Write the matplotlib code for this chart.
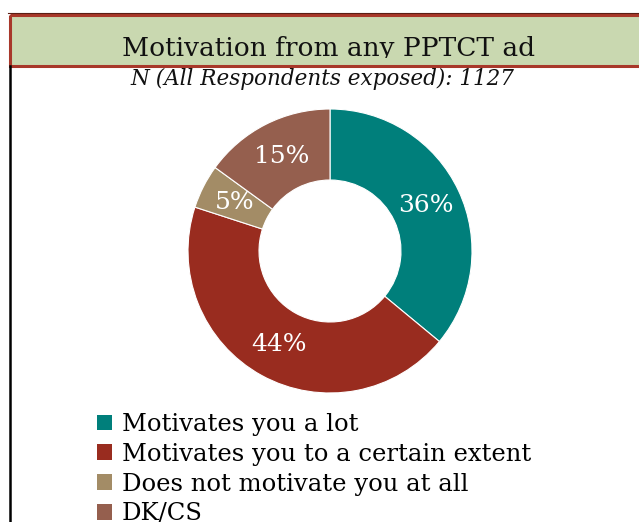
import matplotlib
matplotlib.use("Agg")
import matplotlib.pyplot as plt
from matplotlib.patches import Rectangle, Patch

# data
labels = ["Motivates you a lot", "Motivates you to a certain extent",
          "Does not motivate you at all", "DK/CS"]
values = [36, 44, 5, 15]
colors = ["#007F7B", "#992C1F", "#A38C66", "#955F4E"]
title = "Motivation from any PPTCT ad"
subtitle = "N (All Respondents exposed): 1127"

FONT = "DejaVu Serif"
W, H = 639, 522
fig = plt.figure(figsize=(W / 100, H / 100), dpi=100)
fig.patch.set_facecolor("white")

# background axes in pixel coords (y down)
bg = fig.add_axes([0, 0, 1, 1])
bg.set_xlim(0, W)
bg.set_ylim(H, 0)
bg.axis("off")

# title box: fill, text, then a strip hiding the descenders, then the border
bg.add_patch(Rectangle((9.5, 14.5), 660, 51.5, facecolor="#C9D8B0",
                       edgecolor="none", zorder=1))
bg.text(328, 56, title, ha="center", va="baseline", fontsize=19,
        family=FONT, color="#111111", zorder=2)
bg.add_patch(Rectangle((11, 58.3), 660, 10, facecolor="#C9D8B0",
                       edgecolor="none", zorder=3))
bg.add_patch(Rectangle((9.5, 14.5), 660, 51.5, facecolor="none",
                       edgecolor="#A8382A", linewidth=2.2, zorder=4))
bg.plot([8, W], [13.2, 13.2], color="#5A1E15", lw=0.8, zorder=4)
bg.plot([9.5, 9.5], [66, H], color="black", lw=1.8, zorder=4)
bg.text(322, 85, subtitle, ha="center", va="baseline", fontsize=15.5,
        family=FONT, style="italic", color="#111111", zorder=5)

# donut
cx, cy, r = 330, 251, 142
ax = fig.add_axes([(cx - r) / W, (H - cy - r) / H, 2 * r / W, 2 * r / H])
wedges, texts, autotexts = ax.pie(
    values, colors=colors, startangle=90, counterclock=False,
    radius=1, autopct="%d%%", pctdistance=0.75,
    wedgeprops=dict(width=0.5, edgecolor="white", linewidth=0.8),
    textprops=dict(color="white", fontsize=18, family=FONT))
ax.set_xlim(-1, 1)
ax.set_ylim(-1, 1)
ax.axis("off")

handles = [Patch(facecolor=c, edgecolor="none") for c in colors]
fig.legend(handles, labels, loc="upper left",
           bbox_to_anchor=(97 / W, 1 - 413 / H), frameon=False,
           prop=dict(family=FONT, size=17.5),
           handlelength=0.62, handleheight=0.62, handletextpad=0.41,
           labelspacing=0.28, borderaxespad=0, borderpad=0)

fig.savefig("out.png", dpi=100)
